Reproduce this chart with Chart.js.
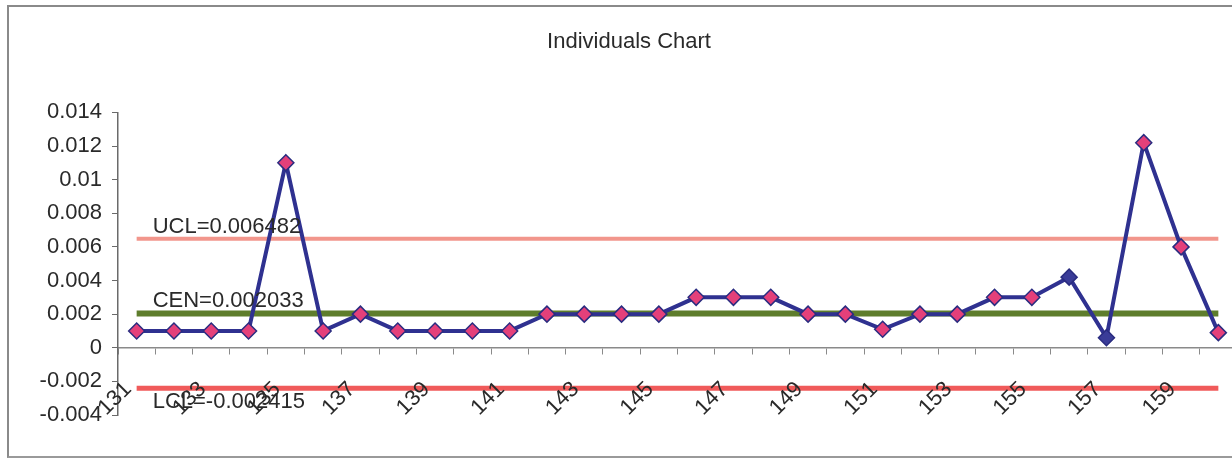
<!DOCTYPE html>
<html>
<head>
<meta charset="utf-8">
<script src="https://cdn.jsdelivr.net/npm/chart.js@4.4.1/dist/chart.umd.min.js"></script>
<style>
  html, body { margin: 0; padding: 0; background: #fff; overflow: hidden; width: 1232px; height: 458px; }
  #frame { position: absolute; left: 7px; top: 5px; width: 1300px; height: 449px;
           border-top: 2px solid #8a8a8a; border-left: 2px solid #8a8a8a; border-bottom: 2px solid #9a9a9a; }
  #wrap { position: absolute; left: 0; top: 0; width: 1258px; height: 458px; }
</style>
</head>
<body>
<div id="frame"></div>
<div id="wrap"><canvas id="c" width="1258" height="458"></canvas></div>
<script>
// ---- data ----
const categories = ['131','132','133','134','135','136','137','138','139','140',
                    '141','142','143','144','145','146','147','148','149','150',
                    '151','152','153','154','155','156','157','158','159','160'];
const individuals = [0.001, 0.001, 0.001, 0.001, 0.011, 0.001, 0.002, 0.001, 0.001, 0.001,
                     0.001, 0.002, 0.002, 0.002, 0.002, 0.003, 0.003, 0.003, 0.002, 0.002,
                     0.0011, 0.002, 0.002, 0.003, 0.003, 0.0042, 0.0006, 0.0122, 0.006, 0.0009];
const UCL = 0.006482;
const CEN = 0.002033;
const LCL = -0.002415;
const yTicks = [-0.004, -0.002, 0, 0.002, 0.004, 0.006, 0.008, 0.01, 0.012, 0.014];
const darkMarkerCategories = ['156', '157'];

const FONT = '"Liberation Sans", Arial, sans-serif';
const TEXT = '#2a2a2a';

const limitLabels = {
  id: 'limitLabels',
  afterDatasetsDraw(chart) {
    const ctx = chart.ctx;
    const xs = chart.scales.x, ys = chart.scales.y;
    const x0 = xs.getPixelForValue(0) + 16;
    ctx.save();
    ctx.font = '22px ' + FONT;
    ctx.fillStyle = TEXT;
    ctx.textAlign = 'left';
    ctx.textBaseline = 'middle';
    ctx.fillText('UCL=' + UCL, x0, ys.getPixelForValue(UCL) - 12);
    ctx.fillText('CEN=' + CEN, x0, ys.getPixelForValue(CEN) - 13);
    ctx.fillText('LCL=' + LCL, x0, ys.getPixelForValue(LCL) + 14);
    ctx.restore();
  }
};

const constLine = (v) => categories.map(() => v);

new Chart(document.getElementById('c'), {
  type: 'line',
  data: {
    labels: categories,
    datasets: [
      {
        label: 'Individuals',
        data: individuals,
        order: 0,
        borderColor: '#2f3190',
        borderWidth: 4,
        pointStyle: 'rectRot',
        pointRadius: 8,
        pointBorderWidth: 1.5,
        pointBorderColor: '#2a2c80',
        pointBackgroundColor: (c) => darkMarkerCategories.includes(categories[c.dataIndex]) ? '#3a3c98' : '#e4407a',
        tension: 0
      },
      { label: 'UCL', data: constLine(UCL), order: 3, borderColor: '#f2968c', borderWidth: 4, pointRadius: 0 },
      { label: 'CEN', data: constLine(CEN), order: 2, borderColor: '#5e7d2c', borderWidth: 6, pointRadius: 0 },
      { label: 'LCL', data: constLine(LCL), order: 3, borderColor: '#f05a5a', borderWidth: 5, pointRadius: 0 }
    ]
  },
  options: {
    responsive: false,
    animation: false,
    layout: { padding: { left: 21, right: 21, top: 0, bottom: 43 } },
    plugins: {
      legend: { display: false },
      tooltip: { enabled: false },
      title: {
        display: true,
        text: 'Individuals Chart',
        color: TEXT,
        font: { family: FONT, size: 22, weight: 'normal', lineHeight: 1.2 },
        padding: { top: 29, bottom: 57 }
      }
    },
    scales: {
      x: {
        type: 'category',
        offset: true,
        position: { y: 0 },
        border: { display: true, color: '#8a8a8a', width: 1.5 },
        grid: { offset: true, drawOnChartArea: false, drawTicks: true, tickLength: 6, color: '#8a8a8a' },
        ticks: {
          z: 1,
          autoSkip: false,
          minRotation: 45,
          maxRotation: 45,
          padding: 14,
          color: TEXT,
          font: { family: FONT, size: 22 },
          callback: (v, i) => (i % 2 === 0 ? categories[i] + '\u00a0\u00a0' : '')
        }
      },
      y: {
        min: -0.004,
        max: 0.014,
        afterFit: (s) => { s.width = 97; },
        afterBuildTicks: (s) => { s.ticks = yTicks.map(v => ({ value: v })); },
        border: { display: true, color: '#6a6a6a', width: 1.5 },
        grid: { drawOnChartArea: false, drawTicks: true, tickLength: 6, color: '#6a6a6a' },
        ticks: {
          padding: 10,
          color: TEXT,
          font: { family: FONT, size: 22 },
          callback: (v) => String(parseFloat(Number(v).toFixed(4)))
        }
      }
    }
  },
  plugins: [limitLabels]
});
</script>
</body>
</html>
